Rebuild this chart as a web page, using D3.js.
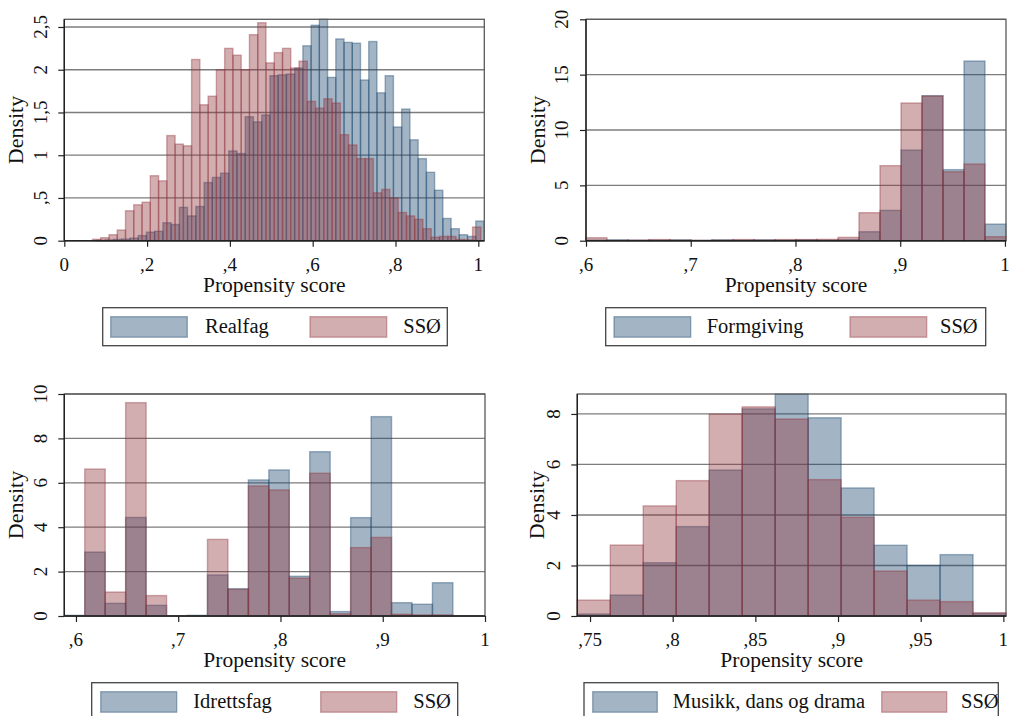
<!DOCTYPE html>
<html>
<head>
<meta charset="utf-8">
<script src="https://cdn.jsdelivr.net/npm/d3@7"></script>
<style>
  html, body { margin: 0; padding: 0; background: #fff; }
  svg { display: block; }
  text { font-family: "Liberation Serif", "Times New Roman", serif; fill: #111; }
</style>
</head>
<body>
<svg id="chart" width="1011" height="716"></svg>
<script>
// ---- Histogram densities (propensity score), per programme vs. SSØ ----

// Realfag vs SSØ: 47 bins each, bins start at each group's minimum score
const realfagBins = { start: 0.079, width: 0.01989 };
const realfagDensity = [0.005, 0.01, 0.015, 0.02, 0.03, 0.06, 0.10, 0.11, 0.21, 0.19,
  0.39, 0.29, 0.40, 0.68, 0.74, 0.79, 1.05, 1.02, 1.45, 1.39, 1.47, 1.93, 1.94, 1.95,
  2.02, 2.28, 2.52, 2.59, 1.91, 2.36, 2.32, 2.31, 1.88, 2.33, 1.73, 1.93, 1.33, 1.54,
  1.18, 0.96, 0.80, 0.59, 0.26, 0.14, 0.07, 0.05, 0.23];
const realfagSsoBins = { start: 0.068, width: 0.01996 };
const realfagSsoDensity = [0.016, 0.035, 0.07, 0.125, 0.35, 0.42, 0.45, 0.76, 0.70, 1.23,
  1.13, 1.11, 2.12, 1.59, 1.69, 2.0, 2.25, 2.17, 2.0, 2.41, 2.55, 2.08, 2.2, 2.25, 2.02,
  2.1, 1.63, 1.55, 1.66, 1.61, 1.24, 1.12, 0.96, 0.96, 0.56, 0.60, 0.50, 0.33, 0.29,
  0.25, 0.14, 0.04, 0.05, 0.05, 0.015, 0.01, 0.16];

// Formgiving vs SSØ: 20 shared bins
const formgivingBins = { start: 0.6, width: 0.02005 };
const formgivingDensity = [0.05, 0.08, 0.05, 0.05, 0.08, 0.03, 0.08, 0.05, 0.08, 0.05,
  0.08, 0.05, 0.1, 0.81, 2.74, 8.19, 13.1, 6.42, 16.23, 1.5];
const formgivingSsoDensity = [0.27, 0.03, 0.05, 0.1, 0.05, 0.03, 0.05, 0.1, 0.06, 0.1,
  0.1, 0.12, 0.3, 2.53, 6.78, 12.44, 13.07, 6.23, 6.93, 0.36];

// Idrettsfag vs SSØ: 19 shared bins
const idrettsfagBins = { start: 0.5886, width: 0.02 };
const idrettsfagDensity = [0.03, 2.88, 0.57, 4.44, 0.48, 0, 0.03, 1.85, 1.23, 6.13,
  6.58, 1.79, 7.40, 0.2, 4.43, 8.98, 0.6, 0.53, 1.5];
const idrettsfagSsoDensity = [0, 6.62, 1.08, 9.61, 0.92, 0, 0, 3.45, 1.2, 5.86,
  5.68, 1.71, 6.43, 0.1, 3.08, 3.54, 0.08, 0.05, 0.05];

// Musikk, dans og drama vs SSØ: 13 shared bins
const musikkBins = { start: 0.7423, width: 0.019946 };
const musikkDensity = [0.08, 0.83, 2.11, 3.54, 5.78, 8.2, 8.79, 7.85, 5.07, 2.8, 2.0, 2.43, 0.1];
const musikkSsoDensity = [0.63, 2.81, 4.36, 5.36, 7.99, 8.28, 7.8, 5.4, 3.91, 1.78, 0.63, 0.57, 0.13];

// Axis ticks and their labels (decimal comma, no leading zero)
const realfagXTicks = [0, 0.2, 0.4, 0.6, 0.8, 1];
const realfagXLabels = ["0", ",2", ",4", ",6", ",8", "1"];
const realfagYTicks = [0, 0.5, 1, 1.5, 2, 2.5];
const realfagYLabels = ["0", ",5", "1", "1,5", "2", "2,5"];

const formgivingXTicks = [0.6, 0.7, 0.8, 0.9, 1];
const formgivingXLabels = [",6", ",7", ",8", ",9", "1"];
const formgivingYTicks = [0, 5, 10, 15, 20];
const formgivingYLabels = ["0", "5", "10", "15", "20"];

const idrettsfagXTicks = [0.6, 0.7, 0.8, 0.9, 1];
const idrettsfagXLabels = [",6", ",7", ",8", ",9", "1"];
const idrettsfagYTicks = [0, 2, 4, 6, 8, 10];
const idrettsfagYLabels = ["0", "2", "4", "6", "8", "10"];

const musikkXTicks = [0.75, 0.8, 0.85, 0.9, 0.95, 1];
const musikkXLabels = [",75", ",8", ",85", ",9", ",95", "1"];
const musikkYTicks = [0, 2, 4, 6, 8];
const musikkYLabels = ["0", "2", "4", "6", "8"];

const seriesNames = {
  realfag: "Realfag", formgiving: "Formgiving", idrettsfag: "Idrettsfag",
  musikk: "Musikk, dans og drama", sso: "SSØ"
};

// ---- Styling ----
const BLUE = "rgb(26,71,111)";
const RED = "rgb(144,53,59)";
const ALPHA = 0.4;

const svg = d3.select("#chart");

// Panel layouts: plot box in pixels plus axis domains
const panels = [
  {
    name: seriesNames.realfag,
    blue: { bins: realfagBins, values: realfagDensity },
    red: { bins: realfagSsoBins, values: realfagSsoDensity },
    xDomain: [0, 1.0145], yDomain: [0, d3.max(realfagDensity.concat(realfagSsoDensity))],
    box: { left: 64.3, right: 484.3, top: 19.3, bottom: 240.7 },
    xTicks: realfagXTicks, xLabels: realfagXLabels, yTicks: realfagYTicks, yLabels: realfagYLabels,
    yLabelX: 47, yTitleX: 23.3, xLabelY: 271, xTitleY: 292,
    legend: { left: 102.7, right: 447.3, top: 307.7, sw1: [110.7, 187.3], t1: 205, sw2: [310, 386.7], t2: 403.3 }
  },
  {
    name: seriesNames.formgiving,
    blue: { bins: formgivingBins, values: formgivingDensity },
    red: { bins: formgivingBins, values: formgivingSsoDensity },
    xDomain: [0.6, 1.001], yDomain: [0, 20],
    box: { left: 586, right: 1006, top: 19.3, bottom: 240.7 },
    xTicks: formgivingXTicks, xLabels: formgivingXLabels, yTicks: formgivingYTicks, yLabels: formgivingYLabels,
    yLabelX: 568, yTitleX: 545, xLabelY: 271, xTitleY: 292,
    legend: { left: 605.7, right: 985.7, top: 307.7, sw1: [614, 690.7], t1: 706.7, sw2: [850, 926.7], t2: 940 }
  },
  {
    name: seriesNames.idrettsfag,
    blue: { bins: idrettsfagBins, values: idrettsfagDensity },
    red: { bins: idrettsfagBins, values: idrettsfagSsoDensity },
    xDomain: [0.5886, 1.0], yDomain: [0, 10],
    box: { left: 64.3, right: 485, top: 394, bottom: 616 },
    xTicks: idrettsfagXTicks, xLabels: idrettsfagXLabels, yTicks: idrettsfagYTicks, yLabels: idrettsfagYLabels,
    yLabelX: 47, yTitleX: 23.3, xLabelY: 645.5, xTitleY: 666.5,
    legend: { left: 91.7, right: 457.7, top: 682.7, sw1: [100.7, 176.7], t1: 193.3, sw2: [320.7, 396.7], t2: 413.3 }
  },
  {
    name: seriesNames.musikk,
    blue: { bins: musikkBins, values: musikkDensity },
    red: { bins: musikkBins, values: musikkSsoDensity },
    xDomain: [0.7423, 1.0016], yDomain: [0, d3.max(musikkDensity.concat(musikkSsoDensity))],
    box: { left: 577.3, right: 1006, top: 394, bottom: 616 },
    xTicks: musikkXTicks, xLabels: musikkXLabels, yTicks: musikkYTicks, yLabels: musikkYLabels,
    yLabelX: 560, yTitleX: 544, xLabelY: 645.5, xTitleY: 666.5,
    legend: { left: 584, right: 998.3, top: 682.7, sw1: [592.7, 657.3], t1: 672.7, sw2: [881.7, 946.7], t2: 961 }
  }
];

function drawBars(g, series, x, y, color) {
  const rows = series.values.map((v, i) => ({
    x0: series.bins.start + i * series.bins.width,
    x1: series.bins.start + (i + 1) * series.bins.width,
    v
  }));
  g.append("g")
    .selectAll("rect")
    .data(rows)
    .join("rect")
    .attr("x", d => x(d.x0))
    .attr("width", d => x(d.x1) - x(d.x0))
    .attr("y", d => y(d.v))
    .attr("height", d => y(0) - y(d.v))
    .attr("fill", color)
    .attr("fill-opacity", ALPHA)
    .attr("stroke", color)
    .attr("stroke-opacity", ALPHA)
    .attr("stroke-width", 1.4);
}

panels.forEach(p => {
  const g = svg.append("g");
  const b = p.box;
  const x = d3.scaleLinear().domain(p.xDomain).range([b.left, b.right]);
  const y = d3.scaleLinear().domain(p.yDomain).range([b.bottom, b.top]);

  // horizontal grid lines
  g.append("g")
    .selectAll("line")
    .data(p.yTicks)
    .join("line")
    .attr("x1", b.left).attr("x2", b.right)
    .attr("y1", d => y(d)).attr("y2", d => y(d))
    .attr("stroke", "#7d7d7d")
    .attr("stroke-width", 1.3);

  // overlaid histograms: programme first, SSØ on top
  drawBars(g, p.blue, x, y, BLUE);
  drawBars(g, p.red, x, y, RED);

  // plot region frame
  g.append("rect")
    .attr("x", b.left).attr("y", b.top)
    .attr("width", b.right - b.left).attr("height", b.bottom - b.top)
    .attr("fill", "none").attr("stroke", "#5a5a5a").attr("stroke-width", 1.3);

  // x axis
  const xAxis = d3.axisBottom(x)
    .tickValues(p.xTicks)
    .tickSize(6)
    .tickFormat("");
  const xg = g.append("g").attr("transform", `translate(0,${b.bottom})`).call(xAxis);
  xg.select(".domain").attr("d", `M${b.left},0H${b.right}`).attr("stroke", "#222").attr("stroke-width", 1.4);
  xg.selectAll(".tick line").attr("stroke", "#222").attr("stroke-width", 1.2);

  g.append("g")
    .selectAll("text")
    .data(p.xTicks)
    .join("text")
    .attr("x", d => x(d))
    .attr("y", p.xLabelY)
    .attr("text-anchor", "middle")
    .attr("font-size", 19)
    .text((d, i) => p.xLabels[i]);

  g.append("text")
    .attr("x", (b.left + b.right) / 2)
    .attr("y", p.xTitleY)
    .attr("text-anchor", "middle")
    .attr("font-size", 21.5)
    .text("Propensity score");

  // y axis
  const yAxis = d3.axisLeft(y)
    .tickValues(p.yTicks)
    .tickSize(6)
    .tickFormat("");
  const yg = g.append("g").attr("transform", `translate(${b.left},0)`).call(yAxis);
  yg.select(".domain").attr("d", `M0,${b.bottom}V${b.top}`).attr("stroke", "#222").attr("stroke-width", 1.4);
  yg.selectAll(".tick line").attr("stroke", "#222").attr("stroke-width", 1.2);

  g.append("g")
    .selectAll("text")
    .data(p.yTicks)
    .join("text")
    .attr("transform", d => `translate(${p.yLabelX},${y(d)}) rotate(-90)`)
    .attr("text-anchor", "middle")
    .attr("font-size", 19)
    .text((d, i) => p.yLabels[i]);

  g.append("text")
    .attr("transform", `translate(${p.yTitleX},${(b.top + b.bottom) / 2}) rotate(-90)`)
    .attr("text-anchor", "middle")
    .attr("font-size", 22)
    .text("Density");

  // legend
  const L = p.legend;
  const lg = g.append("g");
  lg.append("rect")
    .attr("x", L.left).attr("y", L.top)
    .attr("width", L.right - L.left).attr("height", 38)
    .attr("fill", "#fff").attr("stroke", "#444").attr("stroke-width", 1.3);
  const items = [
    { sw: L.sw1, tx: L.t1, color: BLUE, label: p.name },
    { sw: L.sw2, tx: L.t2, color: RED, label: seriesNames.sso }
  ];
  items.forEach(it => {
    lg.append("rect")
      .attr("x", it.sw[0]).attr("y", L.top + 9)
      .attr("width", it.sw[1] - it.sw[0]).attr("height", 20.5)
      .attr("fill", it.color).attr("fill-opacity", ALPHA)
      .attr("stroke", it.color).attr("stroke-opacity", ALPHA).attr("stroke-width", 1.4);
    lg.append("text")
      .attr("x", it.tx).attr("y", L.top + 25.6)
      .attr("font-size", 20.5)
      .text(it.label);
  });
});
</script>
</body>
</html>
